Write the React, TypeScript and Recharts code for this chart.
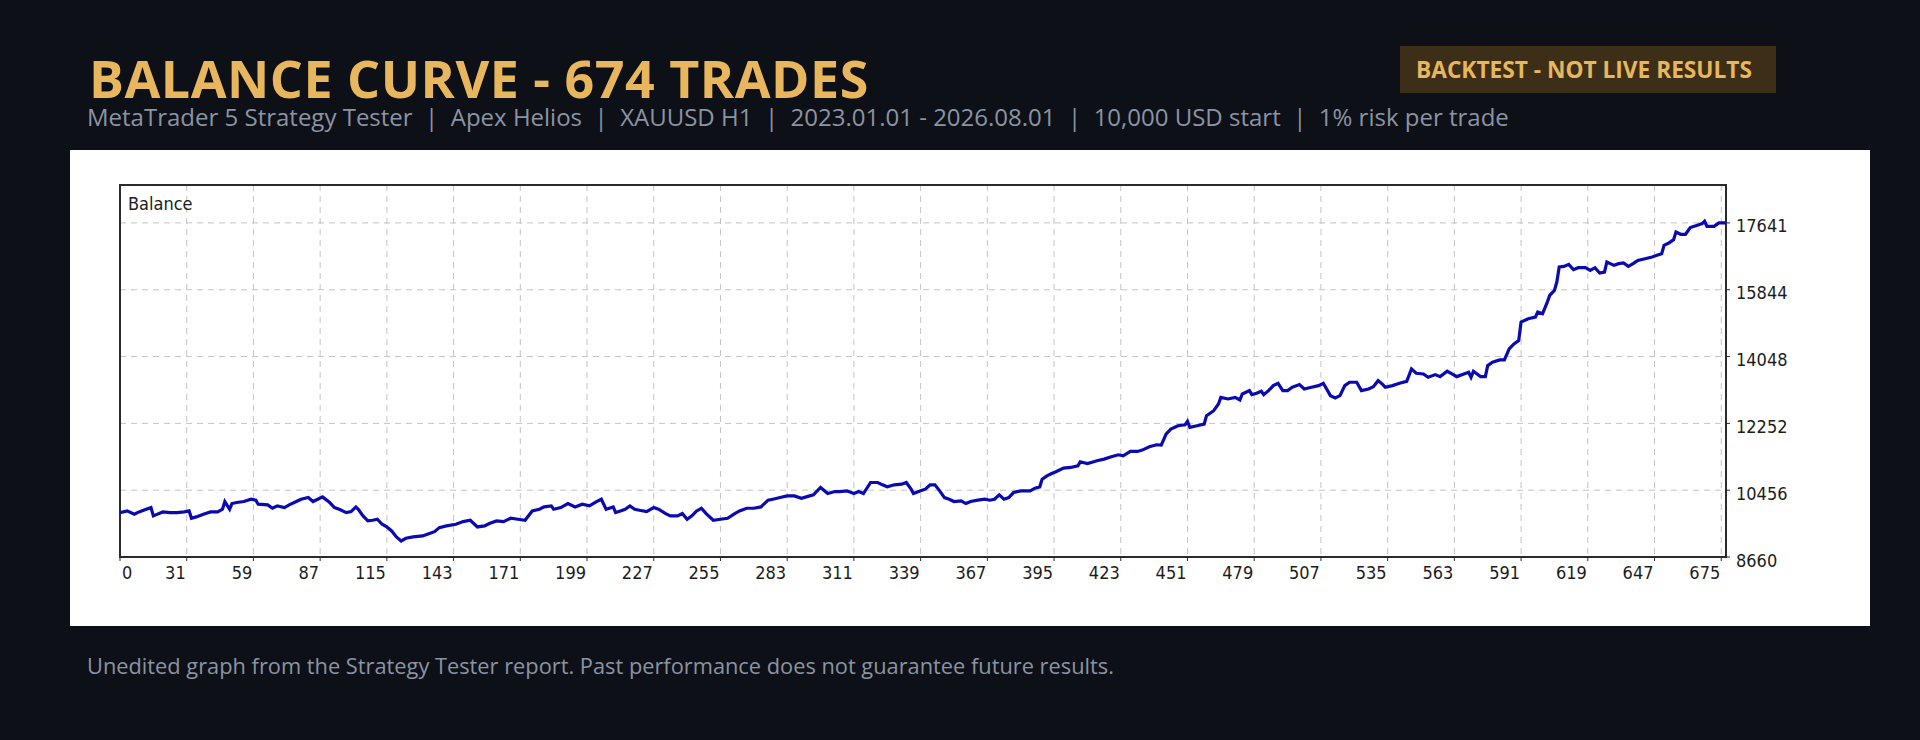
import React from "react";
import { LineChart, Line, XAxis, YAxis, CartesianGrid, ReferenceArea } from "recharts";

// trade number (frame position) and balance
const tradeNo = [
  0, 3, 6, 8, 11, 13, 14, 15, 18, 21, 24, 27, 29, 30, 32, 35, 38, 41, 43, 44,
  46, 47, 49, 52, 55, 57, 58, 62, 64, 66, 69, 71, 74, 76, 79, 81, 83, 85, 88, 90,
  92, 95, 97, 99, 100, 102, 104, 106, 108, 110, 112, 114, 116, 118, 120, 123, 127, 129, 132, 134,
  137, 141, 144, 147, 150, 153, 155, 158, 161, 164, 167, 170, 173, 176, 178, 181, 182, 185, 188, 191,
  194, 197, 200, 202, 204, 207, 208, 210, 212, 214, 216, 218, 221, 224, 226, 229, 231, 234, 236, 238,
  240, 242, 244, 246, 249, 252, 255, 258, 260, 263, 266, 269, 272, 274, 277, 280, 283, 286, 288, 291,
  294, 297, 300, 302, 305, 308, 310, 312, 315, 318, 320, 322, 325, 328, 330, 332, 333, 336, 338, 340,
  342, 344, 346, 348, 350, 353, 355, 357, 360, 363, 365, 367, 369, 371, 373, 375, 378, 382, 384, 386,
  387, 389, 391, 393, 396, 399, 402, 403, 406, 409, 410, 413, 416, 419, 421, 424, 427, 429, 432, 435,
  437, 439, 441, 444, 447, 448, 449, 452, 455, 456, 459, 461, 462, 465, 468, 470, 471, 474, 475, 477,
  479, 480, 482, 484, 486, 488, 490, 492, 495, 497, 500, 503, 505, 508, 510, 512, 514, 516, 519, 521,
  524, 526, 528, 530, 531, 534, 537, 540, 542, 544, 547, 549, 552, 554, 557, 559, 561, 564, 566, 567,
  568, 571, 573, 574, 576, 579, 581, 583, 585, 587, 588, 591, 594, 595, 597, 599, 600, 602, 603, 604,
  606, 608, 610, 612, 615, 617, 619, 621, 623, 624, 627, 629, 631, 633, 635, 637, 640, 643, 645, 647,
  648, 650, 652, 653, 655, 657, 659, 662, 664, 665, 666, 669, 671, 673, 674,
];

const balance = [
  9854, 9899, 9809, 9872, 9944, 9989, 9765, 9792, 9872, 9854, 9854, 9872, 9899, 9702, 9738, 9809, 9872, 9872, 9944, 10151,
  9944, 10097, 10124, 10151, 10214, 10187, 10079, 10061, 9971, 10034, 9989, 10061, 10151, 10214, 10258, 10151, 10214, 10276, 10124, 9989,
  9944, 9854, 9881, 10007, 9944, 9765, 9630, 9648, 9675, 9540, 9468, 9360, 9199, 9091, 9163, 9199, 9226, 9271, 9342, 9450,
  9495, 9540, 9612, 9648, 9468, 9495, 9558, 9630, 9612, 9702, 9675, 9648, 9899, 9944, 10007, 10034, 9944, 9989, 10097, 10007,
  10079, 10034, 10151, 10214, 9944, 10007, 9854, 9899, 9944, 10034, 9944, 9917, 9881, 9989, 9944, 9827, 9765, 9765, 9827, 9675,
  9765, 9899, 9971, 9827, 9648, 9675, 9702, 9827, 9899, 9971, 9971, 10007, 10187, 10214, 10258, 10303, 10303, 10240, 10276, 10330,
  10528, 10366, 10420, 10420, 10438, 10366, 10420, 10366, 10663, 10663, 10600, 10546, 10600, 10618, 10663, 10483, 10366, 10438, 10483, 10600,
  10600, 10438, 10258, 10214, 10151, 10169, 10097, 10151, 10187, 10214, 10187, 10214, 10330, 10214, 10258, 10393, 10438, 10438, 10510, 10546,
  10752, 10842, 10905, 10959, 11049, 11067, 11112, 11219, 11174, 11228, 11246, 11291, 11354, 11408, 11381, 11498, 11498, 11534, 11623, 11677,
  11668, 11965, 12099, 12189, 12216, 12306, 12144, 12189, 12234, 12459, 12593, 12773, 12952, 12908, 12952, 12881, 13042, 13132, 13024, 13060,
  13114, 13024, 13132, 13267, 13330, 13132, 13132, 13222, 13294, 13177, 13222, 13267, 13330, 12997, 12934, 12997, 13267, 13357, 13357, 13132,
  13177, 13240, 13401, 13294, 13222, 13267, 13330, 13383, 13716, 13599, 13581, 13491, 13563, 13509, 13653, 13581, 13509, 13581, 13626, 13491,
  13653, 13509, 13509, 13806, 13895, 13958, 13958, 14255, 14389, 14479, 14973, 15063, 15108, 15243, 15197, 15512, 15692, 15826, 16051, 16455,
  16473, 16527, 16383, 16437, 16437, 16365, 16437, 16293, 16320, 16589, 16500, 16545, 16563, 16473, 16545, 16634, 16679, 16724, 16769, 16814,
  17038, 17101, 17191, 17398, 17335, 17335, 17515, 17578, 17622, 17685, 17550, 17550, 17640, 17640, 17641,
];

const xTicks = [0, 28, 56, 84, 112, 140, 168, 196, 224, 252, 280, 308, 336, 364, 392, 420, 448, 476, 504, 532, 560, 588, 616, 644, 672];
const xTickLabels = ["0", "31", "59", "87", "115", "143", "171", "199", "227", "255", "283", "311", "339", "367", "395", "423", "451", "479", "507", "535", "563", "591", "619", "647", "675"];
const yTicks = [8660, 10456, 12252, 14048, 15844, 17641];

const chartData = tradeNo.map((t, i) => ({ trade: t, balance: balance[i] }));

const mtFont = "'DejaVu Sans Condensed', 'Liberation Sans', sans-serif";
const uiFont = "'Open Sans', 'Noto Sans', sans-serif";

function TradeTick(props: any) {
  const { x, y, payload } = props;
  const idx = xTicks.indexOf(payload.value);
  const first = idx === 0;
  return (
    <text
      x={first ? x + 2 : x - 1}
      y={y + 16}
      textAnchor={first ? "start" : "end"}
      fontSize={18}
      fontFamily={mtFont}
      fill="#1c1c1c"
    >
      {xTickLabels[idx]}
    </text>
  );
}

function BalanceTick(props: any) {
  const { x, y, payload } = props;
  return (
    <text x={x} y={y + 9.5} textAnchor="start" fontSize={18} fontFamily={mtFont} fill="#1c1c1c">
      {payload.value}
    </text>
  );
}

export default function App() {
  return (
    <div style={{ position: "relative", width: 1920, height: 740, background: "#0d1017", overflow: "hidden" }}>
      <style>{"html,body{margin:0;background:#0d1017}"}</style>

      <div
        style={{
          position: "absolute",
          left: 89,
          top: 58,
          fontFamily: uiFont,
          fontWeight: 700,
          fontSize: 52,
          lineHeight: "40px",
          letterSpacing: 0.5,
          color: "#e8b65c",
          whiteSpace: "nowrap",
        }}
      >
        BALANCE CURVE - 674 TRADES
      </div>

      <div
        style={{
          position: "absolute",
          left: 87,
          top: 105,
          fontFamily: uiFont,
          fontSize: 24,
          lineHeight: "24px",
          color: "#8b94a3",
          whiteSpace: "pre",
        }}
      >
        {"MetaTrader 5 Strategy Tester  |  Apex Helios  |  XAUUSD H1  |  2023.01.01 - 2026.08.01  |  10,000 USD start  |  1% risk per trade"}
      </div>

      <div
        style={{
          position: "absolute",
          left: 1400,
          top: 46,
          width: 376,
          height: 47,
          boxSizing: "border-box",
          paddingLeft: 16,
          display: "flex",
          alignItems: "center",
          background: "#3d2f17",
          fontFamily: uiFont,
          fontWeight: 700,
          fontSize: 22.7,
          lineHeight: "23px",
          color: "#e8b65c",
          whiteSpace: "nowrap",
        }}
      >
        BACKTEST - NOT LIVE RESULTS
      </div>

      <div style={{ position: "absolute", left: 70, top: 150, width: 1800, height: 476, background: "#ffffff" }}>
        <LineChart width={1800} height={476} data={chartData} margin={{ top: 35, right: 44, bottom: 29, left: 50 }}>
          <CartesianGrid stroke="#c4c4c4" strokeDasharray="6 5" />
          <XAxis
            dataKey="trade"
            type="number"
            domain={[0, 674]}
            ticks={xTicks}
            interval={0}
            allowDataOverflow
            axisLine={false}
            tickLine={{ stroke: "#2b2b2b" }}
            tickSize={4}
            height={40}
            tick={<TradeTick />}
          />
          <YAxis
            orientation="right"
            type="number"
            domain={[8660, 18660]}
            ticks={yTicks}
            interval={0}
            allowDataOverflow
            axisLine={false}
            tickLine={{ stroke: "#2b2b2b" }}
            tickSize={4}
            tickMargin={6}
            width={100}
            tick={<BalanceTick />}
          />
          <ReferenceArea x1={0} x2={674} y1={8660} y2={18660} fill="none" stroke="#2b2b2b" strokeWidth={2} />
          <Line
            type="linear"
            dataKey="balance"
            stroke="#0a0ab2"
            strokeWidth={3.2}
            dot={false}
            activeDot={false}
            isAnimationActive={false}
          />
        </LineChart>
        <div
          style={{
            position: "absolute",
            left: 58,
            top: 45,
            fontFamily: mtFont,
            fontSize: 18,
            lineHeight: "18px",
            color: "#1c1c1c",
          }}
        >
          Balance
        </div>
      </div>

      <div
        style={{
          position: "absolute",
          left: 87,
          top: 654.5,
          fontFamily: uiFont,
          fontSize: 21.8,
          lineHeight: "21.8px",
          color: "#8b94a3",
          whiteSpace: "nowrap",
        }}
      >
        Unedited graph from the Strategy Tester report. Past performance does not guarantee future results.
      </div>
    </div>
  );
}
